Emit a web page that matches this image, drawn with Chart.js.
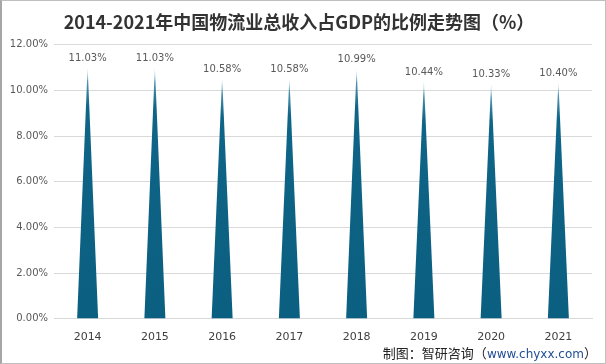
<!DOCTYPE html>
<html>
<head>
<meta charset="utf-8">
<script src="https://cdn.jsdelivr.net/npm/chart.js@4.4.0/dist/chart.umd.min.js"></script>
<style>
  html, body { margin: 0; padding: 0; background: #fff; }
  #wrap { position: relative; width: 603px; height: 362px; border: 1px solid #bfbfbf; border-left: 2px solid #a6a6a6; }
  #source { position: absolute; right: 8px; bottom: 1px; font-family: "Noto Sans CJK SC", sans-serif; font-size: 13px; color: #222; }
  #source span { color: #1f4d94; font-family: "DejaVu Sans", sans-serif; font-size: 12px; }
</style>
</head>
<body>
<div id="wrap">
  <canvas id="myChart" width="603" height="362"></canvas>
  <div id="source">制图：智研咨询（<span>www.chyxx.com</span>）</div>
</div>
<script>
// 年份和数值
var years = ['2014', '2015', '2016', '2017', '2018', '2019', '2020', '2021'];
var ratios = [11.03, 11.03, 10.58, 10.58, 10.99, 10.44, 10.33, 10.40];
var yTicks = [0, 2, 4, 6, 8, 10, 12];

// desenha cada barra como um "espinho" (triângulo) usando as posições do próprio Chart.js
var spikePlugin = {
  id: 'spikes',
  afterDatasetsDraw: function (chart) {
    var ctx = chart.ctx;
    var meta = chart.getDatasetMeta(0);
    meta.data.forEach(function (bar, i) {
      var half = 10.5;
      var grad = ctx.createLinearGradient(0, bar.y, 0, bar.base);
      grad.addColorStop(0, 'rgba(200,230,242,0.5)');
      grad.addColorStop(0.06, '#4f93af');
      grad.addColorStop(0.16, '#0f6587');
      grad.addColorStop(1, '#0b5f81');
      ctx.save();
      ctx.beginPath();
      ctx.moveTo(bar.x, bar.y);
      ctx.lineTo(bar.x + half, bar.base);
      ctx.lineTo(bar.x - half, bar.base);
      ctx.closePath();
      ctx.fillStyle = grad;
      ctx.fill();
      // rótulo do valor
      ctx.fillStyle = '#595959';
      ctx.font = '10px "DejaVu Sans", sans-serif';
      ctx.textAlign = 'center';
      ctx.textBaseline = 'bottom';
      ctx.fillText(ratios[i].toFixed(2) + '%', bar.x, bar.y - 3);
      ctx.restore();
    });
  }
};

var ctx = document.getElementById('myChart');
var myChart = new Chart(ctx, {
  type: 'bar',
  data: {
    labels: years,
    datasets: [{
      label: '占GDP比例',
      data: ratios,
      backgroundColor: 'rgba(0,0,0,0)',
      barThickness: 21
    }]
  },
  options: {
    responsive: false,
    animation: false,
    layout: { padding: { left: 4, right: 13, top: 0, bottom: 15 } },
    plugins: {
      legend: { display: false },
      tooltip: { enabled: false },
      title: {
        display: true,
        text: '2014-2021年中国物流业总收入占GDP的比例走势图（%）',
        color: '#333',
        font: { family: '"Noto Sans CJK SC", sans-serif', size: 18, weight: 'bold' },
        padding: { top: 10, bottom: 12 }
      }
    },
    scales: {
      x: {
        grid: { display: false },
        border: { color: '#d9d9d9' },
        ticks: { color: '#404040', font: { family: '"DejaVu Sans", sans-serif', size: 11 }, padding: 4 }
      },
      y: {
        min: 0,
        max: 12,
        afterFit: function (scale) { scale.width = 48; },
        afterBuildTicks: function (scale) { scale.ticks = yTicks.map(function (v) { return { value: v }; }); },
        grid: { color: '#d9d9d9', drawTicks: false },
        border: { display: false },
        ticks: {
          color: '#595959',
          padding: 6,
          font: { family: '"DejaVu Sans", sans-serif', size: 10 },
          callback: function (v) { return v.toFixed(2) + '%'; }
        }
      }
    }
  },
  plugins: [spikePlugin]
});
</script>
</body>
</html>
